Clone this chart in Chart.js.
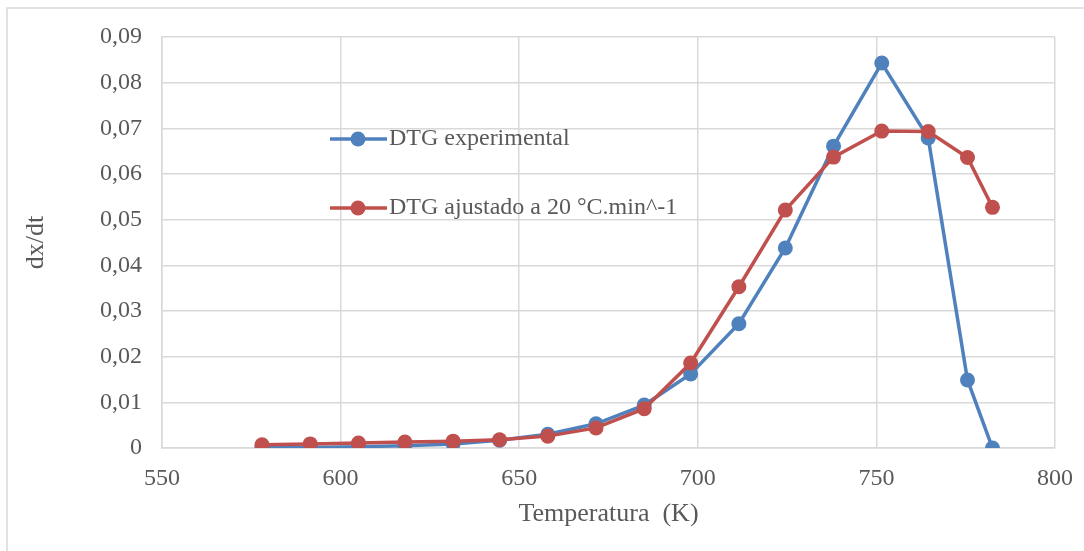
<!DOCTYPE html>
<html>
<head>
<meta charset="utf-8">
<script src="https://cdn.jsdelivr.net/npm/chart.js@4"></script>
<style>
  html, body { margin: 0; padding: 0; background: #fff; }
  #wrap { position: relative; width: 1084px; height: 551px; }
</style>
</head>
<body>
<div id="wrap"><canvas id="dtgChart"></canvas></div>
<script>
// temperatures (K) and DTG values
const temps = [578, 591.5, 605, 618, 631.5, 644.5, 658, 671.5, 685, 698, 711.5, 724.5, 738, 751.5, 764.5, 775.5, 782.5];
const dtgExp = [0.0001, 0.0001, 0.0003, 0.0005, 0.0009, 0.0017, 0.0030, 0.0053, 0.0094, 0.0162, 0.0272, 0.0438, 0.0661, 0.0843, 0.0679, 0.0149, 0.0000];
const dtgFit = [0.0007, 0.0009, 0.0011, 0.0013, 0.0015, 0.0018, 0.0026, 0.0044, 0.0086, 0.0186, 0.0353, 0.0521, 0.0637, 0.0694, 0.0693, 0.0636, 0.0527];

const seriesNames = ['DTG experimental', 'DTG ajustado a 20 °C.min^-1'];
const blue = '#4f81bd';
const red = '#c0504d';
const textColor = '#595959';
const gridColor = '#d9d9d9';
const fontFamily = '"Liberation Serif", "Times New Roman", serif';

function toPoints(ys) {
    return temps.map((t, i) => ({ x: t, y: ys[i] }));
}

// legend sits inside the plot area, like the original
const innerLegend = {
    id: 'innerLegend',
    afterDatasetsDraw(chart) {
        const ctx = chart.ctx;
        const rows = [
            { label: seriesNames[0], color: blue, y: 139 },
            { label: seriesNames[1], color: red, y: 208 }
        ];
        ctx.save();
        rows.forEach(r => {
            ctx.strokeStyle = r.color;
            ctx.lineWidth = 3.5;
            ctx.beginPath();
            ctx.moveTo(330, r.y);
            ctx.lineTo(387, r.y);
            ctx.stroke();
            ctx.fillStyle = r.color;
            ctx.beginPath();
            ctx.arc(358, r.y, 7.5, 0, Math.PI * 2);
            ctx.fill();
            ctx.fillStyle = textColor;
            ctx.font = '24px ' + fontFamily;
            ctx.textAlign = 'left';
            ctx.textBaseline = 'middle';
            ctx.fillText(r.label, 389, r.y);
        });
        ctx.restore();
    }
};

// thin frame round the whole chart (left and top edges visible)
const outerFrame = {
    id: 'outerFrame',
    beforeDraw(chart) {
        const ctx = chart.ctx;
        ctx.save();
        ctx.strokeStyle = gridColor;
        ctx.lineWidth = 1.5;
        ctx.beginPath();
        ctx.moveTo(7, 551);
        ctx.lineTo(7, 8);
        ctx.lineTo(1084, 8);
        ctx.stroke();
        ctx.restore();
    }
};

new Chart(document.getElementById('dtgChart'), {
    type: 'line',
    data: {
        datasets: [{
            label: seriesNames[0],
            data: toPoints(dtgExp),
            borderColor: blue,
            backgroundColor: blue,
            borderWidth: 3.5,
            pointRadius: 7.5,
            pointBorderWidth: 0,
            pointBackgroundColor: blue,
            tension: 0,
            order: 1
        }, {
            label: seriesNames[1],
            data: toPoints(dtgFit),
            borderColor: red,
            backgroundColor: red,
            borderWidth: 3.5,
            pointRadius: 7.5,
            pointBorderWidth: 0,
            pointBackgroundColor: red,
            tension: 0,
            order: 0
        }]
    },
    options: {
        responsive: true,
        maintainAspectRatio: false,
        animation: false,
        layout: { padding: { top: 37, right: 29, bottom: 0, left: 0 } },
        scales: {
            x: {
                type: 'linear',
                min: 550,
                max: 800,
                ticks: {
                    stepSize: 50,
                    color: textColor,
                    padding: 16,
                    font: { family: fontFamily, size: 24 }
                },
                grid: { color: gridColor, lineWidth: 1.5, drawTicks: false },
                border: { color: gridColor, width: 1.5 },
                title: {
                    display: true,
                    text: 'Temperatura  (K)',
                    color: textColor,
                    font: { family: fontFamily, size: 26 },
                    padding: { top: 0, bottom: 21 }
                },
                afterFit(scale) {
                    scale.height = 103;
                    scale.paddingLeft = 0;
                    scale.paddingRight = 0;
                }
            },
            y: {
                min: 0,
                max: 0.09,
                ticks: {
                    stepSize: 0.01,
                    color: textColor,
                    padding: 20,
                    font: { family: fontFamily, size: 24 },
                    callback: v => v === 0 ? '0' : v.toFixed(2).replace('.', ',')
                },
                grid: { color: gridColor, lineWidth: 1.5, drawTicks: false },
                border: { color: gridColor, width: 1.5 },
                title: {
                    display: true,
                    text: 'dx/dt',
                    color: textColor,
                    font: { family: fontFamily, size: 26 },
                    padding: { top: 21, bottom: 0 }
                },
                afterFit(scale) {
                    scale.width = 162;
                    scale.paddingTop = 0;
                    scale.paddingBottom = 0;
                }
            }
        },
        plugins: {
            legend: { display: false },
            tooltip: { enabled: false }
        }
    },
    plugins: [outerFrame, innerLegend]
});
</script>
</body>
</html>
